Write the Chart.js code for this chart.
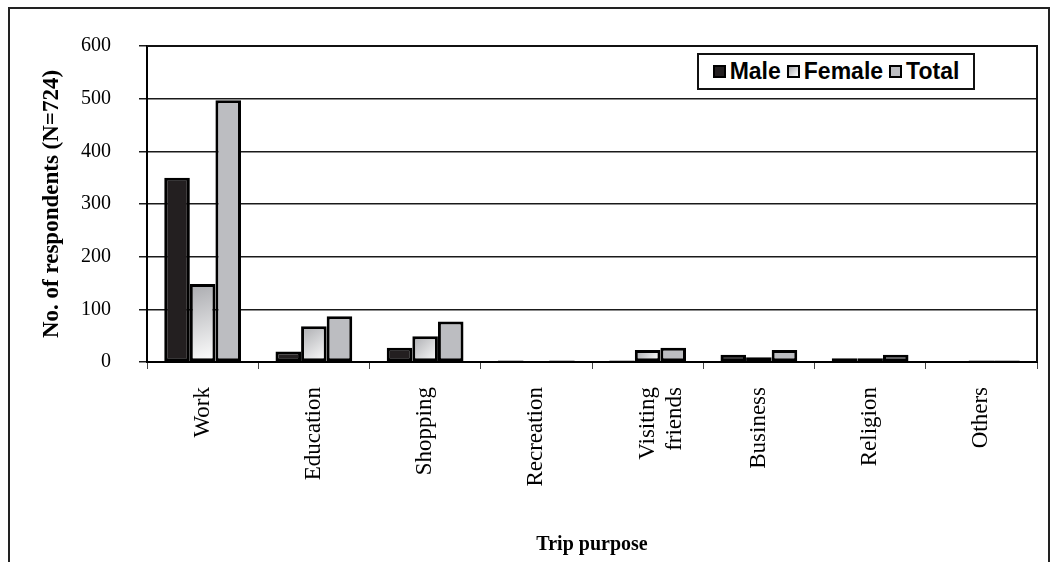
<!DOCTYPE html>
<html>
<head>
<meta charset="utf-8">
<script src="https://cdn.jsdelivr.net/npm/chart.js@4/dist/chart.umd.min.js"></script>
<style>
  html, body { margin: 0; padding: 0; background: #fff; }
  #wrap { position: relative; width: 1061px; height: 562px; overflow: hidden; }
  #frame { position: absolute; left: 8px; top: 7px; width: 1042px; height: 600px; border: 2px solid #222; box-sizing: border-box; }
  canvas { position: absolute; left: 0; top: 0; }
  #legend { position: absolute; left: 697px; top: 53px; width: 278px; height: 37px; border: 2px solid #111; box-sizing: border-box; background: #fff;
    display: flex; align-items: center; justify-content: center; font-family: "Liberation Sans", Arial, sans-serif; font-weight: bold; font-size: 23px; color: #000; }
  #legend .it { display: flex; align-items: center; margin: 0 3px; }
  #legend .sw { width: 13px; height: 13px; border: 2px solid #000; box-sizing: border-box; margin-right: 4px; }
</style>
</head>
<body>
<div id="wrap">
  <div id="frame"></div>
  <canvas id="c" width="1061" height="562"></canvas>
  <div id="legend"></div>
</div>
<script>
const categories = ["Work", "Education", "Shopping", "Recreation", ["Visiting", "friends"], "Business", "Religion", "Others"];
const seriesNames = ["Male", "Female", "Total"];
const male   = [350, 20, 27, 3, 3, 14, 7, 0];
const female = [148, 68, 49, 0, 23, 9, 7, 3];
const total  = [497, 87, 77, 3, 27, 23, 14, 3];
const yTicks = [0, 100, 200, 300, 400, 500, 600];

const MALE_COLOR = "#231f20";
const TOTAL_COLOR = "#bcbdc1";

function femaleFill(c) {
  const chart = c.chart;
  const sx = chart.scales && chart.scales.x, sy = chart.scales && chart.scales.y;
  if (!chart.chartArea || !sx || !sy || c.raw === undefined) return "#dcdcde";
  const x = sx.getPixelForValue(c.dataIndex);
  const top = sy.getPixelForValue(c.raw);
  const bot = sy.getPixelForValue(0);
  const g = chart.ctx.createLinearGradient(x - 13, top, x + 13, Math.max(bot, top + 1));
  g.addColorStop(0, "#a9aaae");
  g.addColorStop(1, "#ffffff");
  return g;
}

const plotFrame = {
  id: "plotFrame",
  afterDatasetsDraw(chart) {
    const a = chart.chartArea, ctx = chart.ctx;
    ctx.save();
    ctx.strokeStyle = "#111";
    ctx.lineWidth = 2;
    ctx.beginPath();
    ctx.moveTo(a.left, a.top);
    ctx.lineTo(a.right, a.top);
    ctx.lineTo(a.right, a.bottom);
    ctx.stroke();
    ctx.restore();
  }
};

const chart = new Chart(document.getElementById("c"), {
  type: "bar",
  data: {
    labels: categories,
    datasets: [
      { label: seriesNames[0], data: male, backgroundColor: MALE_COLOR },
      { label: seriesNames[1], data: female, backgroundColor: femaleFill },
      { label: seriesNames[2], data: total, backgroundColor: TOTAL_COLOR }
    ]
  },
  options: {
    responsive: false,
    animation: false,
    devicePixelRatio: 1,
    layout: { padding: { left: 38, top: 46, right: 24, bottom: 5 } },
    datasets: { bar: { categoryPercentage: 0.69, barPercentage: 1.0, borderColor: "#000", borderWidth: 3, borderSkipped: false } },
    plugins: { legend: { display: false }, tooltip: { enabled: false } },
    scales: {
      x: {
        offset: true,
        afterFit(s) { s.height = 195; },
        grid: { offset: true, drawOnChartArea: false, drawTicks: true, tickLength: 7, color: "#444", lineWidth: 1 },
        border: { display: true, color: "#000", width: 2 },
        ticks: { color: "#000", minRotation: 90, maxRotation: 90, padding: 18, autoSkip: false,
                 font: { family: "'Liberation Serif', 'Times New Roman', serif", size: 23 } },
        title: { display: true, text: "Trip purpose", color: "#000",
                 font: { family: "'Liberation Serif', 'Times New Roman', serif", size: 20, weight: "bold" },
                 padding: { top: 43, bottom: 0 } }
      },
      y: {
        min: 0, max: 600,
        afterBuildTicks(s) { s.ticks = yTicks.map(v => ({ value: v })); },
        afterFit(s) { s.width = 109; },
        grid: { color: "#1a1a1a", lineWidth: 1.5, tickLength: 8, drawTicks: true },
        border: { display: true, color: "#000", width: 2 },
        ticks: { color: "#000", padding: 28,
                 font: { family: "'Liberation Serif', 'Times New Roman', serif", size: 20 } },
        title: { display: true, text: "No. of respondents (N=724)", color: "#000",
                 font: { family: "'Liberation Serif', 'Times New Roman', serif", size: 23, weight: "bold" },
                 padding: { top: 0, bottom: 15 } }
      }
    }
  },
  plugins: [plotFrame]
});

// HTML legend built from the dataset names/colours
const lg = document.getElementById("legend");
seriesNames.forEach((name, i) => {
  const it = document.createElement("div"); it.className = "it";
  const sw = document.createElement("div"); sw.className = "sw";
  sw.style.background = i === 0 ? MALE_COLOR : (i === 1 ? "linear-gradient(135deg,#a9aaae,#ffffff)" : TOTAL_COLOR);
  const tx = document.createElement("span"); tx.textContent = name;
  it.appendChild(sw); it.appendChild(tx); lg.appendChild(it);
});
</script>
</body>
</html>
